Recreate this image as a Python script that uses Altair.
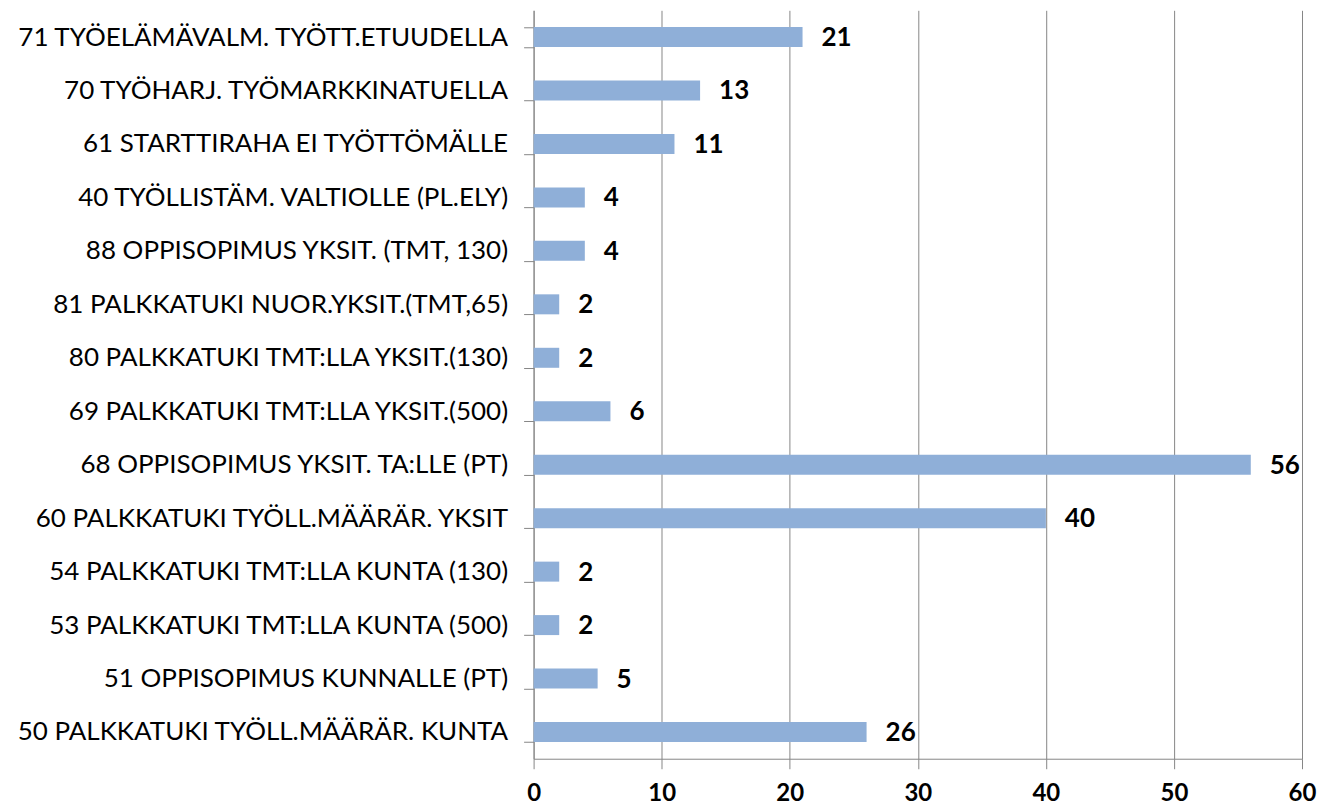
import altair as alt
import pandas as pd

categories = [
    "71 TYÖELÄMÄVALM. TYÖTT.ETUUDELLA",
    "70 TYÖHARJ. TYÖMARKKINATUELLA",
    "61 STARTTIRAHA EI TYÖTTÖMÄLLE",
    "40 TYÖLLISTÄM. VALTIOLLE (PL.ELY)",
    "88 OPPISOPIMUS YKSIT. (TMT, 130)",
    "81 PALKKATUKI NUOR.YKSIT.(TMT,65)",
    "80 PALKKATUKI TMT:LLA YKSIT.(130)",
    "69 PALKKATUKI TMT:LLA YKSIT.(500)",
    "68 OPPISOPIMUS YKSIT. TA:LLE (PT)",
    "60 PALKKATUKI TYÖLL.MÄÄRÄR. YKSIT",
    "54 PALKKATUKI TMT:LLA KUNTA (130)",
    "53 PALKKATUKI TMT:LLA KUNTA (500)",
    "51 OPPISOPIMUS KUNNALLE (PT)",
    "50 PALKKATUKI TYÖLL.MÄÄRÄR. KUNTA",
]
values = [21, 13, 11, 4, 4, 2, 2, 6, 56, 40, 2, 2, 5, 26]
x_ticks = [0, 10, 20, 30, 40, 50, 60]

df = pd.DataFrame({"cat": categories, "val": values})

FONT = "Lato"

y_enc = alt.Y(
    "cat:N",
    sort=categories,
    scale=alt.Scale(paddingInner=0.626, paddingOuter=0.313),
    axis=alt.Axis(
        title=None,
        tickBand="extent",
        tickSize=10,
        tickColor="#868686",
        domainColor="#868686",
        labelFont=FONT,
        labelFontSize=26,
        labelColor="#000000",
        labelPadding=16,
        labelLimit=700,
        grid=False,
    ),
)

x_enc = alt.X(
    "val:Q",
    scale=alt.Scale(domain=[0, 60], nice=False),
    axis=alt.Axis(
        title=None,
        values=x_ticks,
        tickSize=10,
        tickColor="#868686",
        domainColor="#868686",
        grid=True,
        gridColor="#868686",
        gridOpacity=1,
        labelFont=FONT,
        labelFontSize=24,
        labelFontWeight="bold",
        labelColor="#000000",
        labelPadding=13,
        labelFlush=False,
    ),
)

bars = alt.Chart(df).mark_bar(color="#8FAFD8").encode(x=x_enc, y=y_enc)

labels = alt.Chart(df).mark_text(
    align="left", baseline="middle", dx=19, dy=1, font=FONT, fontSize=26,
    fontWeight="bold", color="#000000"
).encode(
    x=alt.X("val:Q"),
    y=alt.Y("cat:N", sort=categories),
    text=alt.Text("val:Q"),
)

chart = (
    alt.layer(bars, labels)
    .properties(
        width=769,
        height=749,
        autosize=alt.AutoSizeParams(type="none"),
        padding={"left": 526, "top": 2, "right": 20, "bottom": 50},
        background="white",
    )
    .configure_view(stroke=None)
)

chart.save("out.html", embed_options={"renderer": "svg", "actions": False})
